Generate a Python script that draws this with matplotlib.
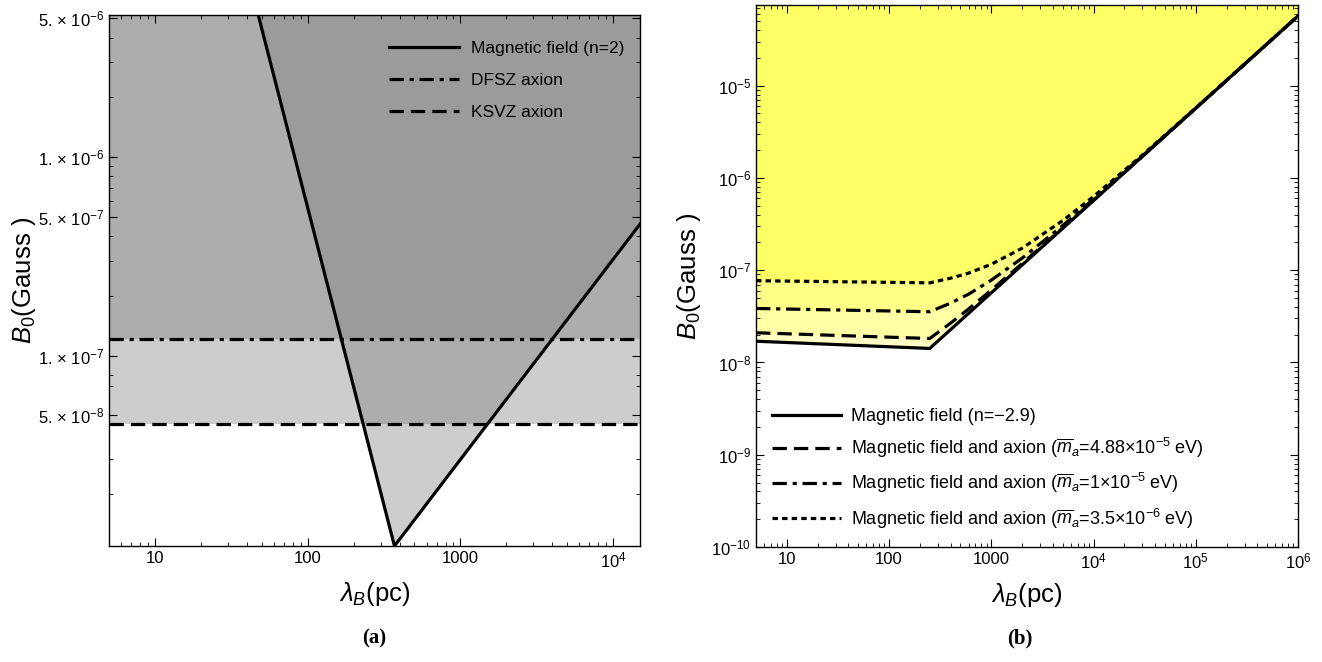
import numpy as np
import matplotlib
matplotlib.use("Agg")
import matplotlib.pyplot as plt
from matplotlib.patches import Polygon
from matplotlib.ticker import FixedLocator, NullFormatter, LogLocator

plt.rcParams['font.family'] = ['Liberation Sans', 'DejaVu Sans']
plt.rcParams['mathtext.fontset'] = 'custom'
plt.rcParams['mathtext.rm'] = 'Liberation Sans'
plt.rcParams['mathtext.it'] = 'Liberation Sans:italic'
plt.rcParams['mathtext.bf'] = 'Liberation Sans:bold'

# ---------------- data: panel (a) ----------------
lam_field_a = [45, 370, 1.5e4]
B_field_a = [6.1e-6, 1.1e-8, 4.6e-7]
B_dfsz = 1.22e-7
B_ksvz = 4.55e-8
xlim_a = (5, 1.5e4)
ylim_a = (1.1e-8, 5.2e-6)
yticks_a = [5e-6, 1e-6, 5e-7, 1e-7, 5e-8]
yticklabels_a = ['5. \u00d7 10$^{-6}$', '1. \u00d7 10$^{-6}$', '5. \u00d7 10$^{-7}$',
                 '1. \u00d7 10$^{-7}$', '5. \u00d7 10$^{-8}$']
xticks_a = [10, 100, 1000, 1e4]
xticklabels_a = ['10', '100', '1000', r'$10^4$']
labels_a = ['Magnetic field (n=2)', 'DFSZ axion', 'KSVZ axion']

# ---------------- data: panel (b) ----------------
lam_field_b = [5, 250, 1e6]
B_field_b = [1.7e-8, 1.42e-8, 5.7e-5]
lam_axion = [5, 250, 400, 600, 1000, 2000, 5000, 1e4, 3e4, 1e5, 1e6]
B_axion_488 = [2.1e-8, 1.82e-8, 2.67e-8, 3.8e-8, 6.1e-8, 1.18e-7, 2.88e-7, 5.72e-7, 1.71e-6, 5.7e-6, 5.7e-5]
B_axion_1 = [3.85e-8, 3.55e-8, 4.4e-8, 5.5e-8, 7.8e-8, 1.35e-7, 3.05e-7, 5.9e-7, 1.73e-6, 5.7e-6, 5.7e-5]
B_axion_35 = [7.7e-8, 7.3e-8, 8.2e-8, 9.3e-8, 1.16e-7, 1.73e-7, 3.45e-7, 6.3e-7, 1.77e-6, 5.75e-6, 5.7e-5]
xlim_b = (5, 1e6)
ylim_b = (1e-10, 7.5e-5)
xticks_b = [10, 100, 1000, 1e4, 1e5, 1e6]
xticklabels_b = ['10', '100', '1000', r'$10^4$', r'$10^5$', r'$10^6$']
yticks_b = [1e-10, 1e-9, 1e-8, 1e-7, 1e-6, 1e-5]
yticklabels_b = [r'$10^{-10}$', r'$10^{-9}$', r'$10^{-8}$', r'$10^{-7}$', r'$10^{-6}$', r'$10^{-5}$']
labels_b = ['Magnetic field (n=\u22122.9)',
            'Magnetic field and axion ($\\overline{m}_a$=4.88\u00d710$^{-5}$ eV)',
            'Magnetic field and axion ($\\overline{m}_a$=1\u00d710$^{-5}$ eV)',
            'Magnetic field and axion ($\\overline{m}_a$=3.5\u00d710$^{-6}$ eV)']

W, H = 1322, 662
fig = plt.figure(figsize=(W / 100, H / 100), dpi=100)

def frac(x0, y0, x1, y1):
    return [x0 / W, 1 - y1 / H, (x1 - x0) / W, (y1 - y0) / H]

lw = 2.3
dash = (0, (4.5, 2.2))
dashdot = (0, (4.5, 1.8, 1.3, 1.8))
dotted = (0, (1.7, 1.3))

def style_axes(ax):
    for s in ax.spines.values():
        s.set_linewidth(1.0)
    ax.tick_params(which='both', direction='in', top=True, right=True, labelsize=12)
    ax.tick_params(which='major', length=6, width=0.8)
    ax.tick_params(which='minor', length=3, width=0.6)

# ---------------- panel (a) ----------------
axa = fig.add_axes(frac(109, 15, 640, 546))
axa.set_xscale('log'); axa.set_yscale('log')
axa.set_xlim(*xlim_a); axa.set_ylim(*ylim_a)
c1, c2, c3 = '#cdcdcd', '#adadad', '#9b9b9b'
axa.axhspan(B_ksvz, B_dfsz, color=c1, lw=0, zorder=0)
axa.axhspan(B_dfsz, ylim_a[1] * 2, color=c2, lw=0, zorder=0)
poly = Polygon([(lam_field_a[0], B_field_a[0]), (lam_field_a[1], B_field_a[1]),
                (lam_field_a[2], B_field_a[2]), (lam_field_a[2], 1e-4), (lam_field_a[0], 1e-4)],
               closed=True, transform=axa.transData, facecolor='none', edgecolor='none')
axa.add_patch(poly)
for lo, hi, c in [(1e-9, B_ksvz, c1), (B_ksvz, B_dfsz, c2), (B_dfsz, 1e-4, c3)]:
    sp = axa.axhspan(lo, hi, color=c, lw=0, zorder=0.5)
    sp.set_clip_path(poly)
axa.plot(lam_field_a, B_field_a, color='black', lw=lw, solid_joinstyle='miter', label=labels_a[0], zorder=3)
axa.axhline(B_dfsz, color='black', lw=lw, linestyle=dashdot, label=labels_a[1], zorder=3)
axa.axhline(B_ksvz, color='black', lw=lw, linestyle=dash, label=labels_a[2], zorder=3)
style_axes(axa)
axa.xaxis.set_major_locator(FixedLocator(xticks_a))
axa.set_xticklabels(xticklabels_a)
axa.xaxis.set_minor_locator(LogLocator(base=10, subs=np.arange(2, 10)))
axa.xaxis.set_minor_formatter(NullFormatter())
axa.yaxis.set_major_locator(FixedLocator(yticks_a))
axa.set_yticklabels(yticklabels_a)
minor_a = [k * 10.0 ** e for e in range(-8, -5) for k in range(2, 10)
           if not any(np.isclose(k * 10.0 ** e, t) for t in yticks_a)]
axa.yaxis.set_minor_locator(FixedLocator(minor_a))
axa.yaxis.set_minor_formatter(NullFormatter())
axa.set_xlabel(r'$\lambda_B$(pc)', fontsize=18.5, labelpad=7)
axa.set_ylabel(r'$B_0$(Gauss )', fontsize=18.5, labelpad=0)
axa.legend(loc='upper right', bbox_to_anchor=(1.0, 0.98), frameon=False, fontsize=12.5,
           handlelength=4.0, handletextpad=0.7, labelspacing=0.95)

# ---------------- panel (b) ----------------
axb = fig.add_axes(frac(756, 5, 1298, 547))
axb.set_xscale('log'); axb.set_yscale('log')
axb.set_xlim(*xlim_b); axb.set_ylim(*ylim_b)
top = ylim_b[1] * 2
axb.fill_between(lam_field_b, B_field_b, top, color='#ffffc4', lw=0, zorder=0)
axb.fill_between(lam_axion, B_axion_488, top, color='#ffffa6', lw=0, zorder=0.2)
axb.fill_between(lam_axion, B_axion_1, top, color='#ffff88', lw=0, zorder=0.4)
axb.fill_between(lam_axion, B_axion_35, top, color='#ffff66', lw=0, zorder=0.6)
axb.plot(lam_field_b, B_field_b, color='black', lw=lw, label=labels_b[0], zorder=3)
axb.plot(lam_axion, B_axion_488, color='black', lw=lw, linestyle=dash, label=labels_b[1], zorder=3)
axb.plot(lam_axion, B_axion_1, color='black', lw=lw, linestyle=dashdot, label=labels_b[2], zorder=3)
axb.plot(lam_axion, B_axion_35, color='black', lw=lw, linestyle=dotted, label=labels_b[3], zorder=3)
style_axes(axb)
axb.xaxis.set_major_locator(FixedLocator(xticks_b))
axb.set_xticklabels(xticklabels_b)
axb.xaxis.set_minor_locator(LogLocator(base=10, subs=np.arange(2, 10)))
axb.xaxis.set_minor_formatter(NullFormatter())
axb.yaxis.set_major_locator(FixedLocator(yticks_b))
axb.set_yticklabels(yticklabels_b)
axb.yaxis.set_minor_locator(LogLocator(base=10, subs=np.arange(2, 10)))
axb.yaxis.set_minor_formatter(NullFormatter())
axb.set_xlabel(r'$\lambda_B$(pc)', fontsize=18.5, labelpad=7)
axb.set_ylabel(r'$B_0$(Gauss )', fontsize=18.5, labelpad=6)
axb.legend(loc='lower left', bbox_to_anchor=(0.0, 0.0), frameon=False, fontsize=13,
           handlelength=3.8, handletextpad=0.55, labelspacing=0.62)

fig.text(374 / W, 1 - 638 / H, '(a)', fontsize=15, fontweight='bold',
         family='Liberation Serif', ha='center', va='center')
fig.text(1020 / W, 1 - 638 / H, '(b)', fontsize=15, fontweight='bold',
         family='Liberation Serif', ha='center', va='center')

fig.savefig('out.png', dpi=100)
